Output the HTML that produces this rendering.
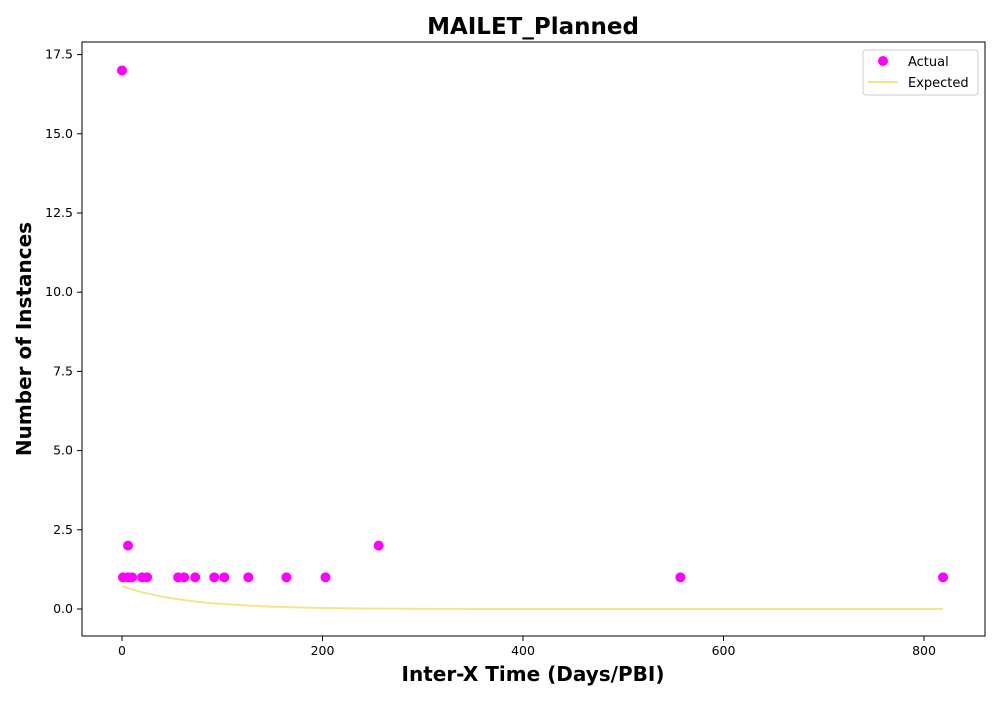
<!DOCTYPE html>
<html><head><meta charset="utf-8"><style>
body{margin:0;background:#fff;font-family:"Liberation Sans","DejaVu Sans",sans-serif}
</style></head><body>
<svg id="chart" width="1000" height="700" xmlns="http://www.w3.org/2000/svg" font-family="DejaVu Sans, Liberation Sans, sans-serif">
<rect width="1000" height="700" fill="#fff"/>
<text x="533" y="34" text-anchor="middle" font-size="23" font-weight="bold">MAILET_Planned</text>
<text x="533" y="681" text-anchor="middle" font-size="20" font-weight="bold">Inter-X Time (Days/PBI)</text>
<text transform="translate(31,339) rotate(-90)" text-anchor="middle" font-size="20" font-weight="bold">Number of Instances</text>
<g id="axes"></g>
<g id="marks"></g>
<rect x="82" y="42" width="903" height="594" fill="none" stroke="#000" stroke-width="1"/>
<g>
<rect x="863" y="50" width="115" height="45" rx="3" fill="#fff" stroke="#ccc"/>
<circle cx="883" cy="61" r="5" fill="#ff00ff"/>
<text x="908" y="66" font-size="13">Actual</text>
<line x1="868" y1="82" x2="898" y2="82" stroke="#f0e68c" stroke-width="2"/>
<text x="908" y="87" font-size="13">Expected</text>
</g>
</svg>
<script>
const actualX=[0,1,6,10,20,25,56,62,73,92,102,126,164,203,256,557,819,6];
const actualY=[17,1,1,1,1,1,1,1,1,1,1,1,1,1,2,1,1,2];
const expX=[0,10,20,30,40,50,60,70,80,90,100,125,150,175,200,250,300,400,600,819];
const expY=[0.72,0.62,0.53,0.46,0.39,0.34,0.29,0.25,0.21,0.18,0.16,0.11,0.07,0.05,0.03,0.013,0.005,0.001,0,0];
const xTicks=[0,200,400,600,800];
const yTicks=[0,2.5,5,7.5,10,12.5,15,17.5];
const ns="http://www.w3.org/2000/svg";
const X=v=>122+v*1.0025, Y=v=>609-v*31.68;
const axes=document.getElementById('axes'), marks=document.getElementById('marks');
function mk(t,a,p){const e=document.createElementNS(ns,t);for(const k in a)e.setAttribute(k,a[k]);p.appendChild(e);return e;}
xTicks.forEach(t=>{
 const l=mk('line',{x1:X(t),x2:X(t),y1:636,y2:641,stroke:'#000'},axes);
 
 
 const s=mk('text',{x:X(t),y:655,'text-anchor':'middle','font-size':12.5},axes);s.textContent=t;
 
 
});
yTicks.forEach(t=>{
 const l=mk('line',{x1:77,x2:82,y1:Y(t),y2:Y(t),stroke:'#000'},axes);
 
 
 const s=mk('text',{x:73,y:Y(t)+4,'text-anchor':'end','font-size':12.5},axes);s.textContent=t.toFixed(1);
 
 
});
const p=mk('polyline',{points:expX.map((x,i)=>X(x)+','+Y(expY[i])).join(' '),fill:'none',stroke:'#f0e68c','stroke-width':2},marks);


actualX.forEach((x,i)=>{
 const c=mk('circle',{cx:X(x),cy:Y(actualY[i]),r:5,fill:'#ff00ff'},marks);
 
 
});
</script>
</body></html>
